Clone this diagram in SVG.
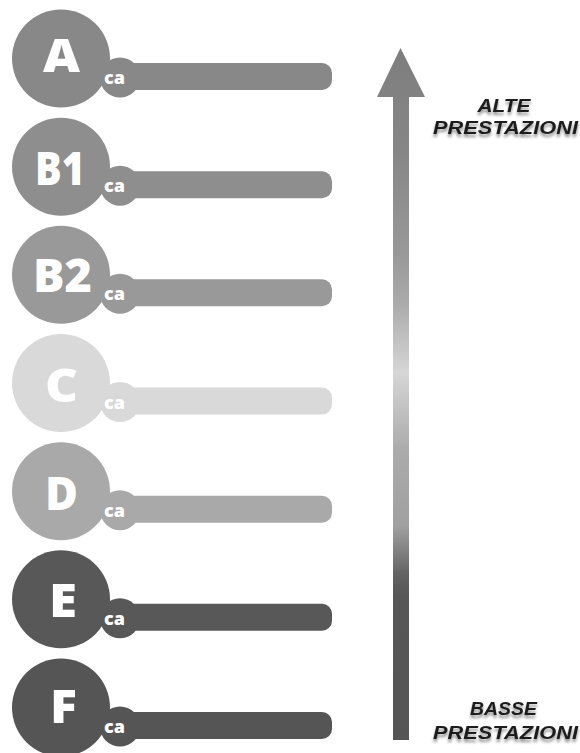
<svg xmlns="http://www.w3.org/2000/svg" width="580" height="753" viewBox="0 0 580 753">
  <defs>
    <linearGradient id="arrowGrad" x1="0" y1="48" x2="0" y2="740" gradientUnits="userSpaceOnUse">
      <stop offset="0" stop-color="#7e7e7e"/>
      <stop offset="0.15" stop-color="#868686"/>
      <stop offset="0.3" stop-color="#999999"/>
      <stop offset="0.37" stop-color="#ababab"/>
      <stop offset="0.47" stop-color="#d6d6d6"/>
      <stop offset="0.58" stop-color="#ababab"/>
      <stop offset="0.69" stop-color="#a0a0a0"/>
      <stop offset="0.72" stop-color="#888888"/>
      <stop offset="0.76" stop-color="#636363"/>
      <stop offset="0.79" stop-color="#575757"/>
      <stop offset="1" stop-color="#555555"/>
    </linearGradient>
    <filter id="labelShadow" x="-10%" y="-40%" width="120%" height="200%">
      <feDropShadow dx="0" dy="3" stdDeviation="1.8" flood-color="#000" flood-opacity="0.45"/>
    </filter>
  </defs>
  <style>
    .grade { font-family: "Open Sans", "Liberation Sans", sans-serif; font-weight: 800; font-size: 46px; fill: #ffffff; text-anchor: middle; }
    .ca { font-family: "Open Sans", "Liberation Sans", sans-serif; font-weight: 800; font-size: 18px; fill: #ffffff; }
    .label { font-family: "Liberation Sans", "Open Sans", sans-serif; font-weight: 700; font-style: italic; font-size: 18px; fill: #1c1c1c; text-anchor: middle; }
  </style>

  <rect width="580" height="753" fill="#ffffff"/>

  <!-- energy class rows: big disc, small "ca" disc, rounded bar -->
  <g id="class-A" fill="#888888">
    <circle cx="61" cy="58.5" r="49"/>
    <circle cx="120" cy="77.5" r="20"/>
    <rect x="118" y="63" width="214" height="27" rx="10"/>
    <text class="grade" x="61.5" y="72" textLength="37" lengthAdjust="spacingAndGlyphs">A</text>
    <text class="ca" x="104" y="84">ca</text>
  </g>
  <g id="class-B1" fill="#8e8e8e">
    <circle cx="61" cy="166.7" r="49"/>
    <circle cx="120" cy="185.7" r="20"/>
    <rect x="118" y="171.2" width="214" height="27" rx="10"/>
    <text class="grade" x="60" y="185" textLength="50" lengthAdjust="spacingAndGlyphs">B1</text>
    <text class="ca" x="104" y="192.2">ca</text>
  </g>
  <g id="class-B2" fill="#999999">
    <circle cx="61" cy="274.8" r="49"/>
    <circle cx="120" cy="293.8" r="20"/>
    <rect x="118" y="279.3" width="214" height="27" rx="10"/>
    <text class="grade" x="62.5" y="292" textLength="59" lengthAdjust="spacingAndGlyphs">B2</text>
    <text class="ca" x="104" y="300.3">ca</text>
  </g>
  <g id="class-C" fill="#d9d9d9">
    <circle cx="61" cy="383" r="49"/>
    <circle cx="120" cy="402" r="20"/>
    <rect x="118" y="387.5" width="214" height="27" rx="10"/>
    <text class="grade" x="61.5" y="402" textLength="33" lengthAdjust="spacingAndGlyphs">C</text>
    <text class="ca" x="104" y="408.5">ca</text>
  </g>
  <g id="class-D" fill="#a9a9a9">
    <circle cx="61" cy="491.2" r="49"/>
    <circle cx="120" cy="510.2" r="20"/>
    <rect x="118" y="495.7" width="214" height="27" rx="10"/>
    <text class="grade" x="61.5" y="510" textLength="33" lengthAdjust="spacingAndGlyphs">D</text>
    <text class="ca" x="104" y="516.7">ca</text>
  </g>
  <g id="class-E" fill="#585858">
    <circle cx="61" cy="599.3" r="49"/>
    <circle cx="120" cy="618.3" r="20"/>
    <rect x="118" y="603.8" width="214" height="27" rx="10"/>
    <text class="grade" x="63" y="617" textLength="28" lengthAdjust="spacingAndGlyphs">E</text>
    <text class="ca" x="104" y="624.8">ca</text>
  </g>
  <g id="class-F" fill="#555555">
    <circle cx="61" cy="707.5" r="49"/>
    <circle cx="120" cy="726.5" r="20"/>
    <rect x="118" y="712" width="214" height="27" rx="10"/>
    <text class="grade" x="63.5" y="723" textLength="27" lengthAdjust="spacingAndGlyphs">F</text>
    <text class="ca" x="104" y="733">ca</text>
  </g>

  <!-- performance scale arrow -->
  <g id="connectors">
    <path d="M393 740 L393 97 L377 97 L400.5 48 L425 97 L409 97 L409 740 Z" fill="url(#arrowGrad)"/>
  </g>

  <g id="label-high" filter="url(#labelShadow)">
    <text class="label" x="504" y="112" textLength="53" lengthAdjust="spacingAndGlyphs">ALTE</text>
    <text class="label" x="505.5" y="134" textLength="145" lengthAdjust="spacingAndGlyphs">PRESTAZIONI</text>
  </g>
  <g id="label-low" filter="url(#labelShadow)">
    <text class="label" x="503.5" y="715" textLength="67" lengthAdjust="spacingAndGlyphs">BASSE</text>
    <text class="label" x="505.5" y="739" textLength="145" lengthAdjust="spacingAndGlyphs">PRESTAZIONI</text>
  </g>
</svg>
